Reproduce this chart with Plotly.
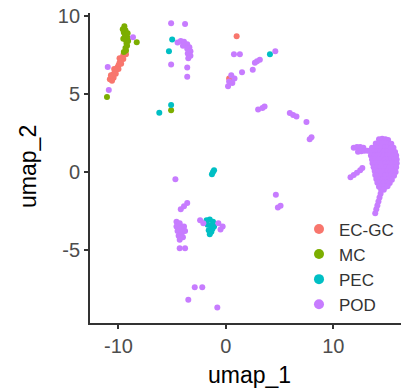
import plotly.graph_objects as go

categories = ["EC-GC", "MC", "PEC", "POD"]
colors = ["#F8766D", "#7CAE00", "#00BFC4", "#C77CFF"]
x_title = "umap_1"
y_title = "umap_2"

ec_x = [-9.4, -9.55, -9.7, -9.8, -9.9, -10.0, -10.1, -10.2, -10.35, -10.5, -10.65, -10.8,
        -10.6, -10.45, -10.25, -10.0, -9.75, -9.55, -9.3, -10.7, -10.4, -9.9, 1.0, 0.3]
ec_y = [7.7, 7.5, 7.3, 7.15, 7.0, 6.85, 6.7, 6.55, 6.4, 6.25, 6.1, 5.95,
        5.85, 6.05, 6.3, 6.6, 6.95, 7.25, 7.55, 6.2, 6.6, 7.3, 8.7, 6.0]

mc_x = [-9.45, -9.6, -9.35, -9.5, -9.25, -9.4, -9.15, -9.3, -9.1, -9.25, -9.2, -9.35,
        -9.3, -9.5, -9.15, -9.55, -8.3, -11.07, -5.1]
mc_y = [9.35, 9.15, 9.1, 8.95, 8.85, 8.7, 8.6, 8.45, 8.4, 8.25, 8.1, 7.95,
        7.8, 7.7, 8.9, 8.55, 8.33, 4.8, 3.95]

pec_x = [-5.0, -5.3, -5.1, -6.2, 4.1, -1.2, -1.3, -1.1,
         -1.8, -1.5, -1.2, -1.7, -1.4, -1.1, -1.6, -1.35, -1.5, -1.25]
pec_y = [8.5, 7.75, 4.3, 3.8, 7.55, 0.0, -0.15, 0.1,
         -3.1, -3.05, -3.2, -3.4, -3.45, -3.5, -3.75, -3.85, -4.0, -3.65]

pod_x = [
    -8.65, -11.0, -10.9,
    -5.1, -3.8,
    -4.5, -4.2, -3.9, -3.6, -3.4, -3.6, -3.3, -3.55, -3.3, -3.5, -4.0,
    -5.1, -3.6, -3.6,
    0.75, 1.3, 1.5, 0.5, 0.8, 0.3, 0.6, 0.2,
    2.5, 2.7, 2.9, 3.16, 4.6,
    3.0, 3.4, 3.6,
    5.95, 6.26, 6.57, 7.5, 7.97, 7.8,
    4.65, 5.09, 4.84,
    -4.7,
    -4.2, -3.9, -3.6,
    -4.6, -4.3, -4.6, -4.2, -3.9, -4.5, -4.1, -3.8, -4.4, -4.0, -4.3,
    -4.3, -3.8,
    -2.9, -2.2, -3.5, -0.8,
    -2.4, -2.1, -0.7, -0.3, -0.5,
    # large cluster
    14.25, 14.55, 14.85, 15.1,
    13.95, 14.25, 14.55, 14.85, 15.15, 15.4,
    11.9, 12.2, 12.5, 12.8, 13.6, 13.9, 14.2, 14.5, 14.8, 15.1, 15.4, 15.6,
    12.3, 12.6, 12.9, 13.2, 13.5, 13.8, 14.1, 14.4, 14.7, 15.0, 15.3, 15.55, 15.75,
    13.5, 13.8, 14.1, 14.4, 14.7, 15.0, 15.3, 15.6, 15.85,
    13.6, 13.9, 14.2, 14.5, 14.8, 15.1, 15.4, 15.7, 15.9,
    13.65, 13.95, 14.25, 14.55, 14.85, 15.15, 15.45, 15.75, 15.9,
    13.75, 14.05, 14.35, 14.65, 14.95, 15.25, 15.55, 15.85,
    13.85, 14.15, 14.45, 14.75, 15.05, 15.35, 15.6, 15.8,
    13.9, 14.2, 14.5, 14.8, 15.1, 15.4, 15.65,
    14.0, 14.3, 14.6, 14.9, 15.2, 15.45,
    14.1, 14.4, 14.7, 15.0, 15.25,
    14.25, 14.55, 14.85, 15.05,
    14.45, 14.7,
    14.4, 14.3, 14.2, 14.1, 14.0, 13.9,
    11.6, 11.9, 12.2, 12.5, 12.7,
]
pod_y = [
    8.65, 6.73, 5.26,
    9.55, 9.5,
    8.3, 8.4, 8.35, 8.2, 8.0, 7.9, 7.75, 7.6, 7.45, 7.3, 8.1,
    6.9, 6.7, 6.1,
    7.55, 7.55, 6.4, 6.2, 6.0, 5.8, 5.7, 5.5,
    6.55, 7.0, 7.1, 7.2, 7.75,
    4.0, 4.1, 4.2,
    3.78, 3.65, 3.55, 3.2, 2.22, 2.1,
    -1.47, -2.18, -2.29,
    -0.47,
    -2.4, -2.2, -2.0,
    -3.2, -3.3, -3.5, -3.6, -3.5, -3.8, -3.9, -3.8, -4.1, -4.2, -4.35,
    -4.9, -4.9,
    -7.4, -7.4, -8.2, -8.7,
    -3.1, -3.3, -3.3, -3.5, -3.7,
    # large cluster
    2.1, 2.12, 2.1, 2.05,
    1.82, 1.85, 1.85, 1.85, 1.82, 1.8,
    1.55, 1.6, 1.6, 1.55, 1.55, 1.58, 1.6, 1.6, 1.6, 1.58, 1.55, 1.55,
    1.3, 1.32, 1.35, 1.35, 1.3, 1.3, 1.32, 1.32, 1.3, 1.3, 1.3, 1.3, 1.28,
    1.05, 1.05, 1.05, 1.05, 1.05, 1.05, 1.05, 1.05, 1.05,
    0.8, 0.8, 0.8, 0.8, 0.8, 0.8, 0.8, 0.8, 0.8,
    0.55, 0.55, 0.55, 0.55, 0.55, 0.55, 0.55, 0.55, 0.55,
    0.3, 0.3, 0.3, 0.3, 0.3, 0.3, 0.3, 0.3,
    0.05, 0.05, 0.05, 0.05, 0.05, 0.05, 0.05, 0.0,
    -0.2, -0.2, -0.2, -0.2, -0.2, -0.2, -0.25,
    -0.45, -0.45, -0.45, -0.45, -0.45, -0.5,
    -0.7, -0.7, -0.7, -0.7, -0.72,
    -0.95, -0.95, -0.95, -0.92,
    -1.15, -1.15,
    -1.4, -1.65, -1.9, -2.15, -2.4, -2.65,
    -0.35, -0.2, -0.05, 0.1, 0.25,
]

x_ticks = [-10, 0, 10]
x_tick_labels = ["-10", "0", "10"]
y_ticks = [-5, 0, 5, 10]
y_tick_labels = ["-5", "0", "5", "10"]
x_range = [-12.65, 16.3]
y_range = [-9.7, 10.2]

series = [(ec_x, ec_y), (mc_x, mc_y), (pec_x, pec_y), (pod_x, pod_y)]

fig = go.Figure()
for name, col, (xs, ys) in zip(categories, colors, series):
    fig.add_trace(go.Scatter(x=xs, y=ys, mode="markers", name=name, showlegend=False,
                             marker=dict(color=col, size=6, line=dict(width=0))))
for name, col in zip(categories, colors):
    fig.add_trace(go.Scatter(x=[None], y=[None], mode="markers", name=name,
                             marker=dict(color=col, size=10, line=dict(width=0))))

axis_common = dict(showgrid=False, zeroline=False, showline=True, linecolor="#333333",
                   linewidth=1.8, ticks="outside", ticklen=4, tickwidth=1.5,
                   tickcolor="#333333", automargin=False,
                   tickfont=dict(size=20, color="#4d4d4d",
                                 family="Liberation Sans, Arial, sans-serif"))

title_font = dict(size=23, color="black", family="Liberation Sans, Arial, sans-serif")

fig.update_layout(
    width=412, height=389,
    margin=dict(l=90, r=11, t=13, b=66),
    paper_bgcolor="white", plot_bgcolor="white",
    font=dict(family="Liberation Sans, Arial, sans-serif"),
    xaxis=dict(range=x_range, tickvals=x_ticks, ticktext=x_tick_labels, **axis_common),
    yaxis=dict(range=y_range, tickvals=y_ticks, ticktext=y_tick_labels, **axis_common),
    legend=dict(x=0.672, y=0.36, xanchor="left", yanchor="top",
                font=dict(size=17, color="#333333"), bgcolor="rgba(0,0,0,0)",
                borderwidth=0, tracegroupgap=0),
    annotations=[
        dict(text=x_title, xref="paper", yref="paper", x=0.512, y=-0.168,
             xanchor="center", yanchor="middle", showarrow=False, font=title_font),
        dict(text=y_title, xref="paper", yref="paper", x=-0.2, y=0.506,
             xanchor="center", yanchor="middle", showarrow=False, textangle=-90,
             font=title_font),
    ],
)

fig.write_html("out.html", config={"displayModeBar": False},
               post_script="document.body.style.margin='0';")
